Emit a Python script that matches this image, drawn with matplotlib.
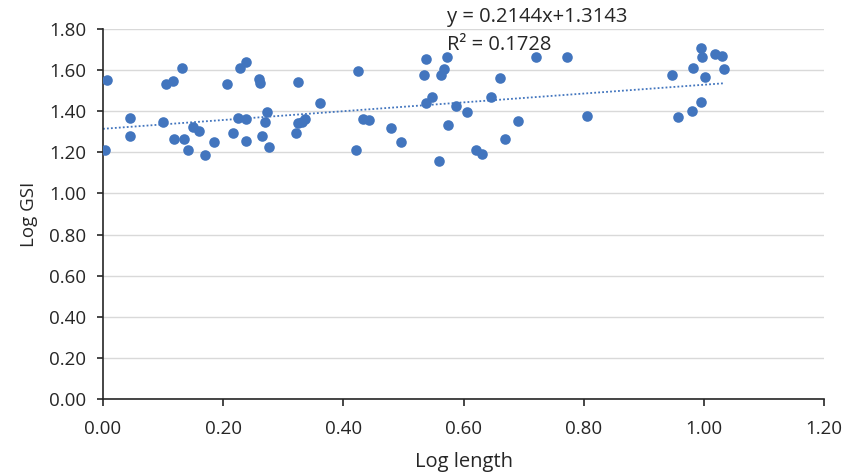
import matplotlib
matplotlib.use("Agg")
import matplotlib.pyplot as plt
import numpy as np

# log length vs log GSI
log_length = [0.006, 0.004, 0.045, 0.045, 0.099, 0.105, 0.117, 0.132, 0.118, 0.135,
              0.141, 0.150, 0.159, 0.170, 0.184, 0.206, 0.216, 0.224, 0.228, 0.238,
              0.238, 0.238, 0.259, 0.262, 0.265, 0.270, 0.273, 0.277, 0.325, 0.322,
              0.325, 0.332, 0.336, 0.361, 0.425, 0.421, 0.432, 0.443, 0.479, 0.496,
              0.538, 0.573, 0.535, 0.568, 0.562, 0.547, 0.538, 0.560, 0.574, 0.588,
              0.606, 0.621, 0.630, 0.646, 0.661, 0.669, 0.690, 0.720, 0.773, 0.806,
              0.947, 0.957, 0.980, 0.982, 0.995, 0.997, 0.995, 1.002, 1.019, 1.031,
              1.034]
log_gsi = [1.552, 1.212, 1.369, 1.280, 1.349, 1.533, 1.549, 1.612, 1.265, 1.265,
           1.213, 1.322, 1.306, 1.186, 1.252, 1.531, 1.294, 1.367, 1.612, 1.638,
           1.361, 1.257, 1.559, 1.536, 1.280, 1.349, 1.395, 1.225, 1.543, 1.296,
           1.342, 1.349, 1.361, 1.439, 1.598, 1.212, 1.361, 1.358, 1.317, 1.252,
           1.655, 1.666, 1.575, 1.606, 1.578, 1.471, 1.439, 1.157, 1.333, 1.424,
           1.395, 1.212, 1.192, 1.471, 1.561, 1.264, 1.351, 1.663, 1.664, 1.377,
           1.578, 1.374, 1.400, 1.611, 1.709, 1.664, 1.444, 1.568, 1.680, 1.669,
           1.604]

slope = 0.2144
intercept = 1.3143
r2 = 0.1728

plt.rcParams['font.family'] = ['Open Sans', 'DejaVu Sans']
blue = '#4275BE'
dark = '#262626'

fig = plt.figure(figsize=(8.5, 4.75), dpi=100)
ax = fig.add_axes([0.1212, 0.16, 0.8482, 0.779])

ax.scatter(log_length, log_gsi, s=58, color=blue, zorder=3, linewidths=0)

# linear trendline
xs = np.array([0.0, max(log_length)])
ax.plot(xs, slope * xs + intercept, linestyle=(0, (1, 1.2)), color=blue,
        linewidth=1.3, zorder=2)

ax.set_xlim(0, 1.2)
ax.set_ylim(0, 1.8)
ax.set_xticks(np.arange(0, 1.21, 0.2))
ax.set_yticks(np.arange(0, 1.81, 0.2))
ax.xaxis.set_major_formatter(matplotlib.ticker.FormatStrFormatter('%.2f'))
ax.yaxis.set_major_formatter(matplotlib.ticker.FormatStrFormatter('%.2f'))
ax.grid(axis='y', color='#d9d9d9', linewidth=1)
ax.set_axisbelow(True)
for s in ['top', 'right']:
    ax.spines[s].set_visible(False)
for s in ['left', 'bottom']:
    ax.spines[s].set_color(dark)
    ax.spines[s].set_linewidth(1.2)
ax.tick_params(axis='both', labelsize=13.5, colors=dark, width=1.2)
ax.tick_params(axis='x', length=5, pad=10)
ax.tick_params(axis='y', length=4, pad=8)

ax.set_xlabel('Log length', fontsize=14.5, color=dark, labelpad=10)
ax.set_ylabel('Log GSI', fontsize=13.5, color=dark, labelpad=8)

fig.text(0.526, 0.964, 'y = %.4fx+%.4f' % (slope, intercept), fontsize=14.5,
         color=dark, va='center')
fig.text(0.526, 0.906, 'R² = %.4f' % r2, fontsize=14.5, color=dark, va='center')

fig.savefig('out.png', dpi=100)
